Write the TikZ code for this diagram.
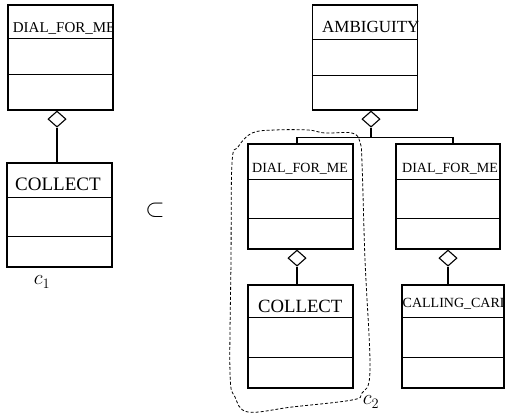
\documentclass[tikz,border=0pt]{standalone}
\usepackage{fontspec}
\setmainfont{Liberation Serif}
\usepackage{tikz}
\usetikzlibrary{calc,shapes.geometric}
\tikzset{
  umlline/.style={draw=black, line width=1.1pt},
  classbox/.style={umlline, rectangle, inner sep=0pt, minimum width=105pt},
  agg/.style={umlline, diamond, fill=white, inner sep=0pt, minimum width=18pt, minimum height=16pt},
  cluster/.style={draw=black, line width=0.8pt, dash pattern=on 3pt off 2pt},
  classname/.style={inner sep=0pt, anchor=base west},
  lab/.style={inner sep=0pt, font=\fontsize{20}{20}\selectfont},
}

\begin{document}
\begin{tikzpicture}[x=1pt,y=-1pt]
  \useasboundingbox (0,0) rectangle (505,414);

  % left: single aggregation
  \node[classbox, minimum height=105pt] (dialA) at (60.5,57.5) {};
  \node[classbox, minimum height=104pt] (collA) at (59.5,215) {};

  % right: AMBIGUITY with two branches
  \node[classbox, minimum height=105pt] (ambig) at (365,57.5) {};
  \node[classbox, minimum height=105pt] (dialB) at (300.5,196.5) {};
  \node[classbox, minimum height=103pt] (collB) at (300.5,336.5) {};
  \node[classbox, minimum width=104pt, minimum height=105pt] (dialC) at (448,196.5) {};
  \node[classbox, minimum width=102pt, minimum height=103pt] (card) at (453,336.5) {};

  % compartment lines
  \foreach \b/\p/\q in {dialA/34/70, collA/35/74, ambig/35/71, dialB/36/75,
                        collB/33/73, dialC/36/75, card/33/73} {
    \draw[umlline] ($(\b.north west)+(0,\p)$) -- ($(\b.north east)+(0,\p)$);
    \draw[umlline] ($(\b.north west)+(0,\q)$) -- ($(\b.north east)+(0,\q)$);
  }

  % class names, cut off at the box edge
  \foreach \b/\x/\y/\s/\t in {dialA/12.7/33/15/DIAL\_FOR\_ME, collA/15/190/19/COLLECT,
                              ambig/322/33/17/AMBIGUITY, dialB/252/172/14/DIAL\_FOR\_ME,
                              collB/258/312/18.7/COLLECT, dialC/402/172/14/DIAL\_FOR\_ME,
                              card/402.5/307/14/CALLING\_CARD} {
    \begin{scope}
      \clip (\b.north west) rectangle (\b.south east);
      \node[classname, font=\fontsize{\s}{\s}\selectfont] (\b-name) at (\x,\y) {\t};
    \end{scope}
  }

  % aggregation diamonds
  \node[agg, anchor=north] (aggA) at ($(dialA.south)+(-3.5,0)$) {};
  \node[agg, anchor=north] (aggM) at ($(ambig.south)+(6,0)$) {};
  \node[agg, anchor=north] (aggB) at ($(dialB.south)+(-3.5,0)$) {};
  \node[agg, anchor=north] (aggC) at ($(dialC.south)$) {};

  \draw[umlline] (aggA.south) -- (aggA.south |- collA.north);
  \draw[umlline] (aggB.south) -- (aggB.south |- collB.north);
  \draw[umlline] (aggC.south) -- (aggC.south |- card.north);

  \coordinate (fork) at ($(aggM.south)+(0,10)$);
  \coordinate (dropB) at ($(dialB.north)+(-3.5,0)$);
  \coordinate (dropC) at ($(dialC.north)+(5,0)$);
  \draw[umlline] (aggM.south) -- (fork);
  \draw[umlline] (dropB) |- (fork) -| (dropC);

  % dashed outline round the left branch
  \draw[cluster] plot[smooth cycle, tension=0.6] coordinates {
    (232,163) (238,147) (252,133) (275,130) (308,130) (325,133) (352,133)
    (360,142) (362,163) (365,260) (370,370) (362,393) (352,400) (292,407)
    (248,412) (235,397) (230,373) (231,260)};

  \node[lab] (c1) at (42,282) {$c_1$};
  \node[lab] (c2) at (371,402) {$c_2$};
  \node[inner sep=0pt, font=\fontsize{24}{24}\selectfont] (sub) at (155,210) {$\subset$};
\end{tikzpicture}
\end{document}
